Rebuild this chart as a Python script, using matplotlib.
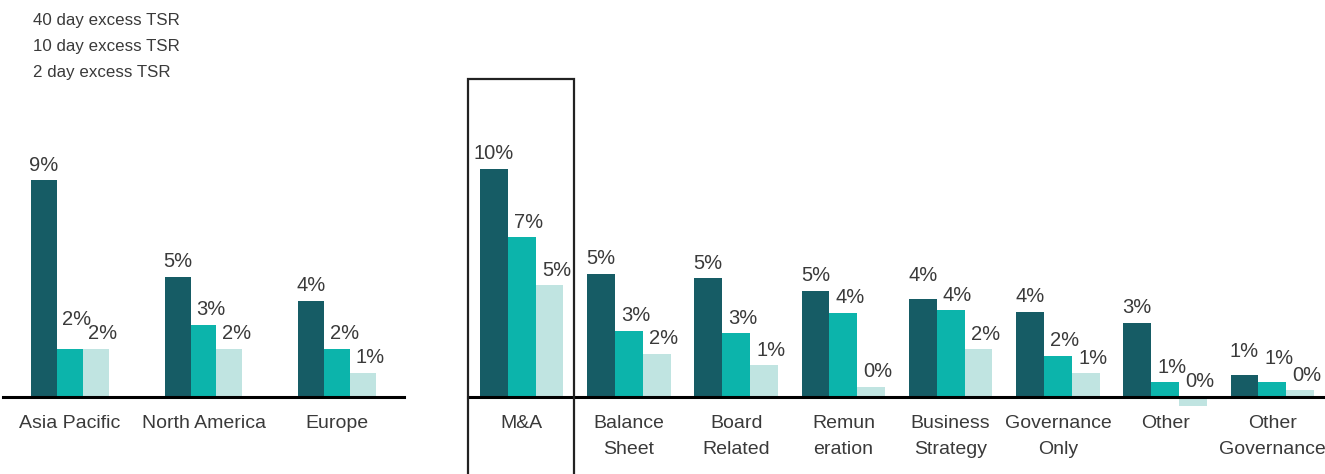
import matplotlib.pyplot as plt
import matplotlib.patches as patches
import numpy as np

plt.rcParams['font.family'] = ['Liberation Sans', 'DejaVu Sans']

series = ["40 day excess TSR", "10 day excess TSR", "2 day excess TSR"]
colors = ["#165c65", "#0cb4ab", "#c0e4e1"]

regions = ["Asia Pacific", "North America", "Europe"]
region_40d = [9.0, 5.0, 4.0]
region_10d = [2.0, 3.0, 2.0]
region_2d = [2.0, 2.0, 1.0]

types = ["M&A", "Balance\nSheet", "Board\nRelated", "Remun\neration",
         "Business\nStrategy", "Governance\nOnly", "Other", "Other\nGovernance"]
type_40d = [10.0, 5.4, 5.2, 4.65, 4.3, 3.75, 3.25, 0.95]
type_10d = [7.0, 2.9, 2.8, 3.7, 3.8, 1.8, 0.65, 0.65]
type_2d = [4.9, 1.9, 1.4, 0.45, 2.1, 1.05, -0.4, 0.3]

TXT = "#3a3a3a"


def Plot_Group(ax, cats, vals, w):
    x = np.arange(len(cats))
    for i, v in enumerate(vals):
        xs = x + (i - 1) * w
        ax.bar(xs, v, width=w, color=colors[i], zorder=2, clip_on=False)
        dx = 0 if i == 0 else 5
        for j, (xi, vi) in enumerate(zip(xs, v)):
            dy = 4
            # lift a label when the next bar is about as tall, so they do not collide
            if i < len(vals) - 1 and abs(vals[i + 1][j] - vi) < 0.6:
                dy = 14 if vals[i + 1][j] >= vi - 0.05 else 10
            ax.annotate(f"{round(vi):.0f}%", (xi, max(vi, 0)), xytext=(dx, dy),
                        textcoords="offset points", ha="center", va="bottom",
                        fontsize=14.5, color=TXT)
    ax.axhline(0, color="black", lw=2.2, zorder=3, clip_on=False)
    ax.set_xlim(-0.5, len(cats) - 0.5)
    ax.set_xticks(x)
    ax.set_xticklabels(cats, fontsize=14, color=TXT, linespacing=1.65, va="top")
    ax.tick_params(axis="x", length=0, pad=13)
    ax.set_yticks([])
    for s in ax.spines.values():
        s.set_visible(False)


fig = plt.figure(figsize=(13.25, 4.74), dpi=100)

ax1 = fig.add_axes([3 / 1325, 77 / 474, 401 / 1325, 289 / 474])
Plot_Group(ax1, regions, [region_40d, region_10d, region_2d], 0.194)
ax1.set_ylim(0, 12)

ax2 = fig.add_axes([468 / 1325, 77 / 474, 858 / 1325, 273.6 / 474])
Plot_Group(ax2, types, [type_40d, type_10d, type_2d], 0.26)
ax2.set_ylim(0, 12)

# box round M&A
box = patches.Rectangle((-0.5, -0.3), 0.985, 1.462, transform=ax2.get_xaxis_transform(),
                        fill=False, edgecolor="#222222", lw=1.6, clip_on=False, zorder=4)
ax2.add_patch(box)

for k, name in enumerate(series):
    fig.text(33 / 1325, 1 - (20 + 26 * k) / 474, name, fontsize=12.2, color=TXT, va="center")

plt.savefig("out.png", dpi=100)
